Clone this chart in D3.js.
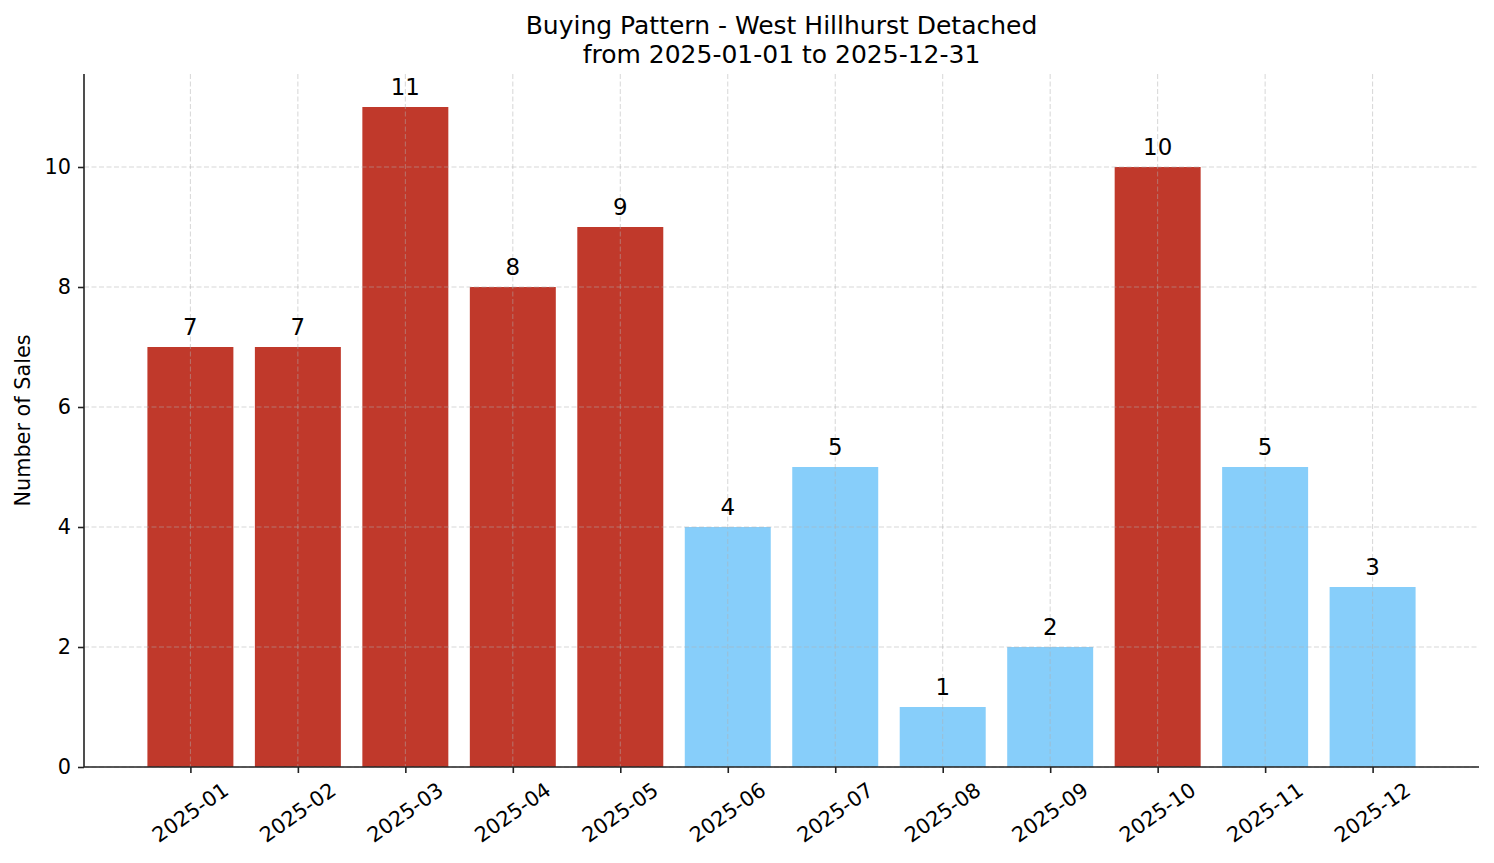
<!DOCTYPE html>
<html>
<head>
<meta charset="utf-8">
<script src="https://cdn.jsdelivr.net/npm/d3@7"></script>
<style>
  body { margin: 0; background: #fff; }
  text { font-family: "DejaVu Sans", sans-serif; fill: #000; }
</style>
</head>
<body>
<div id="chart"></div>
<script>
// data
const months = ["2025-01", "2025-02", "2025-03", "2025-04", "2025-05", "2025-06",
  "2025-07", "2025-08", "2025-09", "2025-10", "2025-11", "2025-12"];
const sales = [7, 7, 11, 8, 9, 4, 5, 1, 2, 10, 5, 3];
const yTicks = [0, 2, 4, 6, 8, 10];

const W = 1494, H = 863;
const margin = { left: 84, top: 74, right: 15, bottom: 96 };
const width = W - margin.left - margin.right,
  height = H - margin.top - margin.bottom;
const labelSize = 20.8;

const svg = d3.select("#chart").append("svg")
  .attr("width", W).attr("height", H);

const g = svg.append("g")
  .attr("transform", `translate(${margin.left},${margin.top})`);

// x: matplotlib style - bars width 0.8 plus 5% margins
const n = months.length;
const xLin = d3.scaleLinear()
  .domain([-0.4 - 0.59, n - 1 + 0.4 + 0.59])
  .range([0, width]);
const x = (i) => xLin(i);
const barW = xLin(0.8) - xLin(0);

const yMax = d3.max(sales) * 1.05;
const y = d3.scaleLinear().domain([0, yMax]).range([height, 0]);

const color = (v) => (v >= 6 ? "#c0392b" : "#87cefa");

// bars
g.selectAll(".bar")
  .data(sales)
  .enter()
  .append("rect")
  .attr("class", "bar")
  .attr("x", (d, i) => x(i) - barW / 2)
  .attr("width", barW)
  .attr("y", (d) => y(d))
  .attr("height", (d) => y(0) - y(d))
  .attr("fill", color);

// grid (drawn over bars like the original)
const grid = g.append("g").attr("class", "grid");
grid.selectAll(".gx")
  .data(months)
  .enter()
  .append("line")
  .attr("x1", (d, i) => x(i)).attr("x2", (d, i) => x(i))
  .attr("y1", 0).attr("y2", height);
grid.selectAll(".gy")
  .data(yTicks)
  .enter()
  .append("line")
  .attr("x1", 0).attr("x2", width)
  .attr("y1", (d) => y(d)).attr("y2", (d) => y(d));
grid.selectAll("line")
  .attr("stroke", "#b0b0b0")
  .attr("stroke-opacity", 0.5)
  .attr("stroke-width", 1)
  .attr("stroke-dasharray", "5,2.5");

// value labels
g.selectAll(".val")
  .data(sales)
  .enter()
  .append("text")
  .attr("class", "val")
  .attr("x", (d, i) => x(i))
  .attr("y", (d) => y(d) - 12)
  .attr("text-anchor", "middle")
  .style("font-size", "22.9px")
  .text((d) => d);

// y axis
const yAxis = g.append("g")
  .call(d3.axisLeft(y).tickValues(yTicks).tickSize(6).tickPadding(7));
yAxis.selectAll("text").style("font-size", labelSize + "px").style("font-family", "DejaVu Sans");

// x axis
const xAxis = g.append("g")
  .attr("transform", `translate(0,${height})`)
  .call(d3.axisBottom(xLin).tickValues(d3.range(n)).tickSize(6).tickFormat(() => ""));

[yAxis, xAxis].forEach((ax) => {
  ax.select(".domain").attr("stroke", "#222").attr("stroke-width", 1.6);
  ax.selectAll(".tick line").attr("stroke", "#222").attr("stroke-width", 1.6);
});
yAxis.select(".domain").attr("d", `M0,${height}V0`);
xAxis.select(".domain").attr("d", `M0,0H${width}`);

// rotated x labels, centered under tick (matplotlib rotation=35, ha=center)
const ang = 35 * Math.PI / 180;
xAxis.selectAll(".xl")
  .data(months)
  .enter()
  .append("text")
  .attr("class", "xl")
  .style("font-size", labelSize + "px")
  .attr("text-anchor", "middle")
  .attr("dominant-baseline", "central")
  .text((d) => d)
  .each(function (d, i) {
    const w = this.getComputedTextLength();
    const h = labelSize * 0.9;
    const bh = w * Math.sin(ang) + h * Math.cos(ang);
    const cy = 6 + 7 + bh / 2;
    d3.select(this).attr("transform", `translate(${x(i)},${cy}) rotate(-35)`);
  });

// y label
svg.append("text")
  .attr("transform", `translate(23,${margin.top + height / 2}) rotate(-90)`)
  .attr("text-anchor", "middle")
  .attr("dominant-baseline", "central")
  .style("font-size", labelSize + "px")
  .text("Number of Sales");

// title
const title = svg.append("text")
  .attr("text-anchor", "middle")
  .style("font-size", "25px");
title.append("tspan").attr("x", margin.left + width / 2).attr("y", 34)
  .text("Buying Pattern - West Hillhurst Detached");
title.append("tspan").attr("x", margin.left + width / 2).attr("y", 63)
  .text("from 2025-01-01 to 2025-12-31");
</script>
</body>
</html>
